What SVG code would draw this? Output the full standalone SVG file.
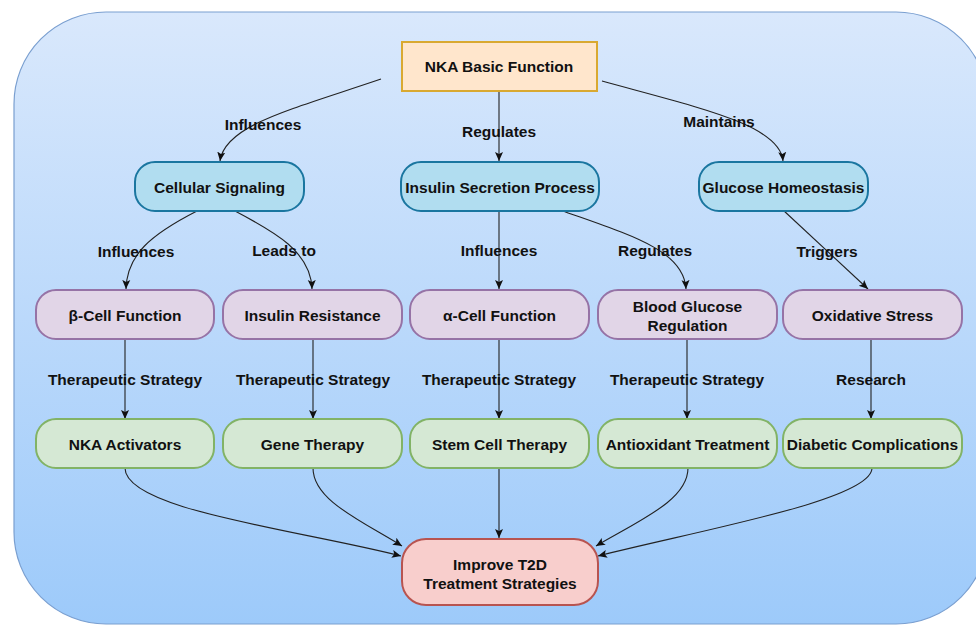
<svg xmlns="http://www.w3.org/2000/svg" width="976" height="625" viewBox="0 0 976 625">
<defs>
<linearGradient id="bg" x1="0" y1="0" x2="0" y2="1">
<stop offset="0" stop-color="#d9e8fc"/>
<stop offset="1" stop-color="#9dcafa"/>
</linearGradient>
<marker id="arr" markerUnits="userSpaceOnUse" markerWidth="10" markerHeight="10" viewBox="0 0 10 10" refX="9" refY="5" orient="auto">
<path d="M0,1 L9,5 L0,9 L2,5 Z" fill="#111"/>
</marker>
<style>
text{font-family:"Liberation Sans",Arial,Helvetica,sans-serif;font-weight:bold;font-size:15.5px;fill:#111;text-anchor:middle}
.top{fill:#ffe6cc;stroke:#d9a931;stroke-width:2}
.blue{fill:#b1ddf0;stroke:#1a76a0;stroke-width:2}
.purple{fill:#e1d5e7;stroke:#9673a6;stroke-width:2}
.green{fill:#d5e8d4;stroke:#82b366;stroke-width:2}
.red{fill:#f8cecc;stroke:#b85450;stroke-width:2}
.edge{fill:none;stroke:#222;stroke-width:1.1;marker-end:url(#arr)}
</style>
</defs>
<rect x="14" y="12" width="974" height="612" rx="92" ry="92" fill="url(#bg)" stroke="#7a9fd0" stroke-width="1.2"/>

<g id="connectors">
<path class="edge" d="M381,79 C290,110 225,125 220,161"/>
<path class="edge" d="M499,91 L499,161"/>
<path class="edge" d="M602,81 C700,108 780,125 783,161"/>
<path class="edge" d="M197,211 C150,235 127,255 126,289"/>
<path class="edge" d="M235,211 C275,232 311,252 312,289"/>
<path class="edge" d="M499,211 L499,289"/>
<path class="edge" d="M560,210 C630,235 684,250 686,289"/>
<path class="edge" d="M783,210 L868,289"/>
<path class="edge" d="M125,339 L125,419"/>
<path class="edge" d="M313,339 L313,419"/>
<path class="edge" d="M499,339 L499,419"/>
<path class="edge" d="M687,339 L687,419"/>
<path class="edge" d="M871,339 L871,419"/>
<path class="edge" d="M125,468 C125,510 300,530 401,556"/>
<path class="edge" d="M313,468 C313,500 360,520 402,546"/>
<path class="edge" d="M499,468 L499,538"/>
<path class="edge" d="M688,468 C688,500 640,520 596,546"/>
<path class="edge" d="M872,468 C872,500 700,530 598,556"/>
<text x="263" y="130">Influences</text>
<text x="499" y="137">Regulates</text>
<text x="719" y="127">Maintains</text>
<text x="136" y="257">Influences</text>
<text x="284" y="256">Leads to</text>
<text x="499" y="256">Influences</text>
<text x="655" y="256">Regulates</text>
<text x="827" y="257">Triggers</text>
<text x="125" y="385">Therapeutic Strategy</text>
<text x="313" y="385">Therapeutic Strategy</text>
<text x="499" y="385">Therapeutic Strategy</text>
<text x="687" y="385">Therapeutic Strategy</text>
<text x="871" y="385">Research</text>
</g>

<g id="nka"><rect class="top" x="402" y="42" width="195" height="49"/><text x="499" y="71.5">NKA Basic Function</text></g>

<g id="cellular"><rect class="blue" x="135" y="162" width="169" height="49" rx="20"/><text x="219.5" y="192.5">Cellular Signaling</text></g>
<g id="insulin-secretion"><rect class="blue" x="401" y="162" width="198" height="49" rx="20"/><text x="500" y="192.5">Insulin Secretion Process</text></g>
<g id="glucose"><rect class="blue" x="699" y="162" width="169" height="49" rx="20"/><text x="783.5" y="192.5">Glucose Homeostasis</text></g>

<g id="beta"><rect class="purple" x="36" y="290" width="178" height="49" rx="20"/><text x="125" y="321">β-Cell Function</text></g>
<g id="resistance"><rect class="purple" x="223" y="290" width="179" height="49" rx="20"/><text x="312.5" y="321">Insulin Resistance</text></g>
<g id="alpha"><rect class="purple" x="410" y="290" width="179" height="49" rx="20"/><text x="499.5" y="321">α-Cell Function</text></g>
<g id="bgr"><rect class="purple" x="598" y="290" width="179" height="49" rx="20"/><text x="687.5" y="311.5">Blood Glucose</text><text x="687.5" y="330.5">Regulation</text></g>
<g id="oxidative"><rect class="purple" x="783" y="290" width="179" height="49" rx="20"/><text x="872.5" y="321">Oxidative Stress</text></g>

<g id="activators"><rect class="green" x="36" y="419" width="178" height="49" rx="20"/><text x="125" y="449.5">NKA Activators</text></g>
<g id="gene"><rect class="green" x="223" y="419" width="179" height="49" rx="20"/><text x="312.5" y="449.5">Gene Therapy</text></g>
<g id="stem"><rect class="green" x="410" y="419" width="179" height="49" rx="20"/><text x="499.5" y="449.5">Stem Cell Therapy</text></g>
<g id="antioxidant"><rect class="green" x="598" y="419" width="179" height="49" rx="20"/><text x="687.5" y="449.5">Antioxidant Treatment</text></g>
<g id="complications"><rect class="green" x="783" y="419" width="179" height="49" rx="20"/><text x="872.5" y="449.5">Diabetic Complications</text></g>

<g id="improve"><rect class="red" x="402" y="539" width="196" height="66" rx="24"/><text x="500" y="570">Improve T2D</text><text x="500" y="589">Treatment Strategies</text></g>
</svg>
